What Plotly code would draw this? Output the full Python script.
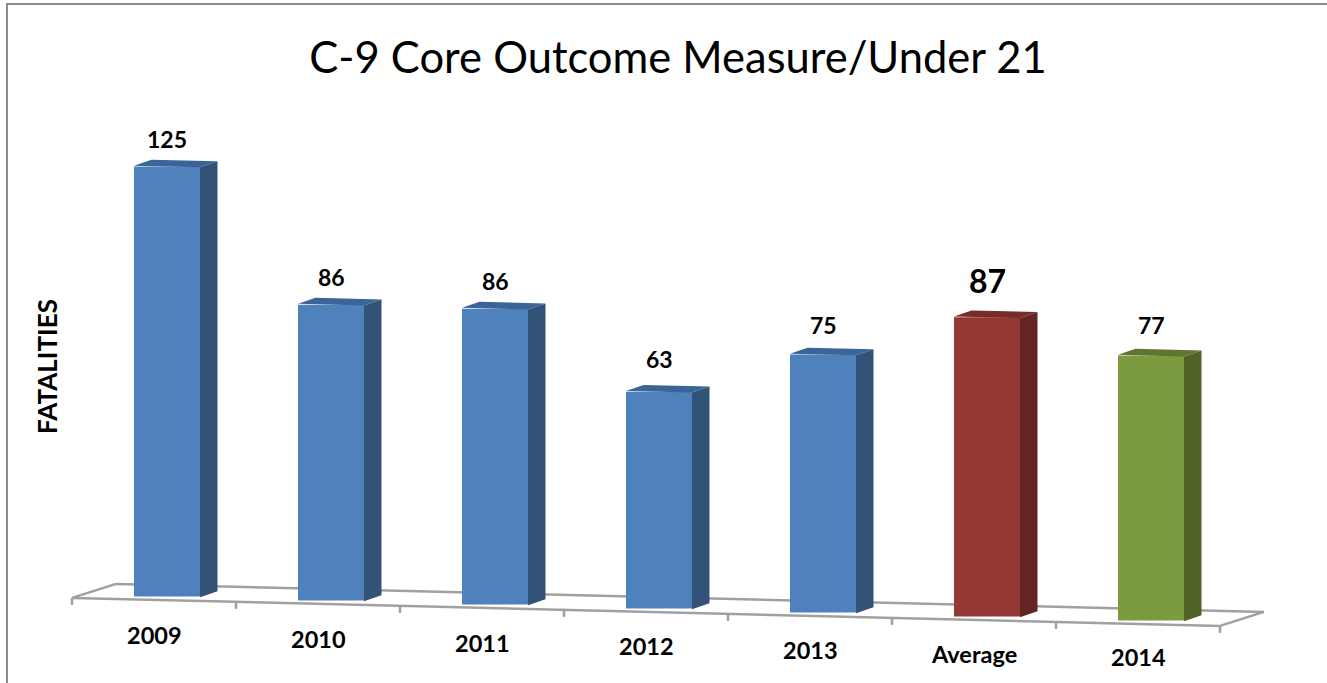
import plotly.graph_objects as go

categories = ["2009", "2010", "2011", "2012", "2013", "Average", "2014"]
values = [125, 86, 86, 63, 75, 87, 77]
front_colors = ["#4f81bd"] * 5 + ["#953735", "#7c9a3e"]
side_colors = ["#325278"] * 5 + ["#632423", "#4f6228"]
top_colors = ["#3b6499"] * 5 + ["#772c2a", "#5f7530"]
label_sizes = [23, 23, 23, 23, 23, 32, 23]
label_shifts = [28, 28, 28, 33, 30, 37, 31]
cat_shifts = [-38, -38, -38, -37, -37, -37, -36]

W, H = 1327, 683
PX_PER_CAT, PX_PER_VAL = 164.0, 3.44
X0_PX, Y0_PX = 167.0, 596.5  # where x=0, y=0 sit on the page
SKEW = 4.0 / PX_PER_VAL      # receding floor, value units per category
BAR_W = 66 / PX_PER_CAT
DX, DY = 17.5 / PX_PER_CAT, 6 / PX_PER_VAL
FLOOR_DX, FLOOR_DY = 44 / PX_PER_CAT, 14 / PX_PER_VAL
FLOOR_L, FLOOR_R = (72 - X0_PX) / PX_PER_CAT, (1220 - X0_PX) / PX_PER_CAT
FLOOR_OFF = -3.7 / PX_PER_VAL
TICK = 7 / PX_PER_VAL


def ground(x):
    return -SKEW * x


def floor(x):
    return ground(x) + FLOOR_OFF


idx = list(range(len(categories)))
bases = [ground(i) for i in idx]
fig = go.Figure()

fig.add_trace(go.Bar(
    x=idx, y=values, base=bases, width=BAR_W,
    marker=dict(color=front_colors, line=dict(width=0)),
    customdata=categories, hovertemplate="%{customdata}: %{y}<extra></extra>",
    showlegend=False,
))

for i, v in zip(idx, values):
    l, r = i - BAR_W / 2, i + BAR_W / 2
    bot_l, bot_r = ground(l), ground(r)
    top_l, top_r = bot_l + v, bot_r + v
    fig.add_trace(go.Scatter(
        x=[r, r + DX, r + DX, r, r],
        y=[bot_r, bot_r + DY, top_r + DY, top_r, bot_r],
        mode="lines", fill="toself", fillcolor=side_colors[i],
        line=dict(width=0), hoverinfo="skip", showlegend=False,
    ))
    fig.add_trace(go.Scatter(
        x=[l, r, r + DX, l + DX, l],
        y=[top_l, top_r, top_r + DY, top_l + DY, top_l],
        mode="lines", fill="toself", fillcolor=top_colors[i],
        line=dict(width=0), hoverinfo="skip", showlegend=False,
    ))

shapes = []
floor_line = dict(type="line", xref="x", yref="y", layer="below",
                  line=dict(color="#a0a0a0", width=2.5))
corners = [
    (FLOOR_L, floor(FLOOR_L), FLOOR_R, floor(FLOOR_R)),
    (FLOOR_L + FLOOR_DX, floor(FLOOR_L) + FLOOR_DY, FLOOR_R + FLOOR_DX, floor(FLOOR_R) + FLOOR_DY),
    (FLOOR_L, floor(FLOOR_L), FLOOR_L + FLOOR_DX, floor(FLOOR_L) + FLOOR_DY),
    (FLOOR_R, floor(FLOOR_R), FLOOR_R + FLOOR_DX, floor(FLOOR_R) + FLOOR_DY),
]
for x0, y0, x1, y1 in corners:
    shapes.append(dict(floor_line, x0=x0, y0=y0, x1=x1, y1=y1))
for k in range(len(categories) + 1):
    tx = FLOOR_L + k
    shapes.append(dict(floor_line, x0=tx, x1=tx, y0=floor(tx), y1=floor(tx) - TICK))

border = dict(type="line", xref="paper", yref="paper", line=dict(color="#8c8c8c", width=2))
shapes.append(dict(border, x0=7 / W, x1=7 / W, y0=0, y1=1 - 4 / H))
shapes.append(dict(border, x0=6 / W, x1=1, y0=1 - 4 / H, y1=1 - 4 / H))

annotations = []
for i, v in zip(idx, values):
    annotations.append(dict(
        x=i, y=bases[i] + v, xref="x", yref="y", text=f"<b>{v}</b>", showarrow=False,
        yshift=label_shifts[i], yanchor="middle",
        font=dict(family="Lato", size=label_sizes[i], color="#000000"),
    ))
    annotations.append(dict(
        x=i - 13 / PX_PER_CAT, y=bases[i], xref="x", yref="y",
        text=f"<b>{categories[i]}</b>", showarrow=False,
        yshift=cat_shifts[i], yanchor="middle",
        font=dict(family="Lato", size=23.5, color="#000000"),
    ))
annotations.append(dict(
    x=47 / W, y=1 - 367 / H, xref="paper", yref="paper", text="<b>FATALITIES</b>",
    textangle=-90, showarrow=False, xanchor="center", yanchor="middle",
    font=dict(family="Lato", size=26, color="#000000"),
))

fig.update_layout(
    width=W, height=H, margin=dict(l=0, r=0, t=0, b=0),
    paper_bgcolor="white", plot_bgcolor="white",
    title=dict(text="C-9 Core Outcome Measure/Under 21", x=678 / W, y=1 - 58 / H,
               xanchor="center", yanchor="middle",
               font=dict(family="Lato", size=43.5, color="#000000")),
    xaxis=dict(range=[-X0_PX / PX_PER_CAT, (W - X0_PX) / PX_PER_CAT], visible=False, fixedrange=True),
    yaxis=dict(range=[(Y0_PX - H) / PX_PER_VAL, Y0_PX / PX_PER_VAL], visible=False, fixedrange=True),
    shapes=shapes, annotations=annotations, barmode="overlay", showlegend=False,
)
fig.write_html("out.html", config={"displayModeBar": False},
               post_script="document.body.style.margin='0';")
